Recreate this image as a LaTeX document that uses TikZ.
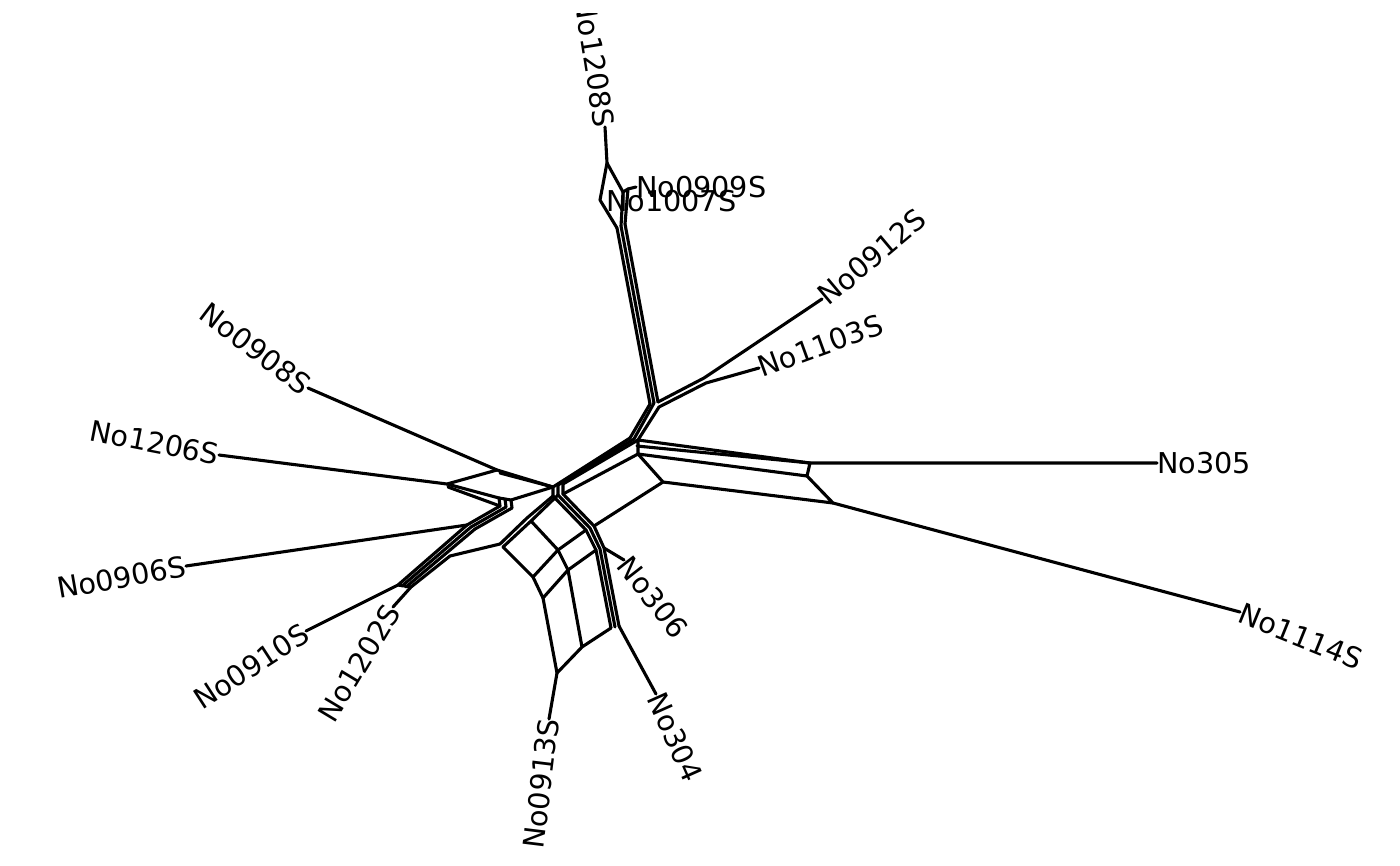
\documentclass[tikz,border=0pt]{standalone}
\usepackage{fontspec}
\newfontfamily\labfont{DejaVu Sans}
\tikzset{
  split/.style={line width=3.1pt, line join=round, line cap=round},
  lab/.style={font=\labfont\fontsize{28.7}{34}\selectfont, inner sep=0pt}
}
\begin{document}
\begin{tikzpicture}[x=1pt, y=-1pt]
\useasboundingbox (0,0) rectangle (1400,865);
% tips
\begin{scope}
\clip (0,13) rectangle (1400,865);
\node[lab, anchor=east, rotate=-81] (l1208) at (605,127) {No1208S};
\end{scope}
\node[lab, anchor=west] (l0909) at (636,187) {No0909S};
\node[lab, anchor=west] (l1007) at (606,201) {No1007S};
\node[lab, anchor=west, rotate=40] (l0912) at (822,299) {No0912S};
\node[lab, anchor=west, rotate=20] (l1103) at (759,368) {No1103S};
\node[lab, anchor=west] (l305) at (1157,463) {No305};
\node[lab, anchor=west, rotate=-22] (l1114) at (1240,612) {No1114S};
\node[lab, anchor=west, rotate=-52] (l306) at (624,560) {No306};
\node[lab, anchor=west, rotate=-66] (l304) at (656,694) {No304};
\node[lab, anchor=east, rotate=83] (l0913) at (549,719) {No0913S};
\node[lab, anchor=east, rotate=59] (l1202) at (393,607) {No1202S};
\node[lab, anchor=east, rotate=33] (l0910) at (306,631) {No0910S};
\node[lab, anchor=east, rotate=10] (l0906) at (186,566) {No0906S};
\node[lab, anchor=east, rotate=-11] (l1206) at (219,455) {No1206S};
\node[lab, anchor=east, rotate=-37] (l0908) at (308,388) {No0908S};
% top
\coordinate (a1) at (607,163);
\coordinate (a2) at (600,200);
\coordinate (a3) at (617,228);
\coordinate (a4) at (623,192);
\coordinate (a5) at (628,189);
\coordinate (a6) at (621,226);
\coordinate (a7) at (625,224);
\coordinate (w1) at (650,404);
\coordinate (w2) at (654,403);
\coordinate (w3) at (658,402);
\coordinate (w4) at (659,407);
\coordinate (x1) at (704,378);
\coordinate (x2) at (706,383);
% centre
\coordinate (y1) at (630,438);
\coordinate (y2) at (634,439);
\coordinate (y3) at (638,440);
\coordinate (y4) at (637,446);
\coordinate (y5) at (638,454);
\coordinate (r1) at (810,463);
\coordinate (r2) at (807,476);
\coordinate (s1) at (663,482);
\coordinate (s2) at (833,503);
\coordinate (c1) at (553,487);
\coordinate (c2) at (558,485);
\coordinate (c3) at (563,484);
\coordinate (d1) at (553,496);
\coordinate (d2) at (558,495);
\coordinate (d3) at (563,494);
% lower arc
\coordinate (f1) at (586,530);
\coordinate (f2) at (590,528);
\coordinate (f3) at (594,526);
\coordinate (g1) at (596,550);
\coordinate (g2) at (600,549);
\coordinate (g3) at (604,548);
\coordinate (h1) at (611,628);
\coordinate (h2) at (615,627);
\coordinate (h3) at (619,626);
\coordinate (k1) at (527,518);
\coordinate (k2) at (531,521);
\coordinate (m1) at (500,544);
\coordinate (m2) at (503,547);
\coordinate (n1) at (533,577);
\coordinate (n2) at (543,598);
\coordinate (u2) at (558,550);
\coordinate (u3) at (568,570);
\coordinate (p1) at (582,647);
\coordinate (p2) at (557,673);
% left
\coordinate (q1) at (398,585);
\coordinate (q2) at (402,586);
\coordinate (q3) at (406,587);
\coordinate (q4) at (411,587);
\coordinate (q5) at (450,556);
\coordinate (Q1) at (467,525);
\coordinate (Q2) at (471,527);
\coordinate (Q3) at (475,529);
\coordinate (b1t) at (499,498);
\coordinate (b1b) at (500,506);
\coordinate (b2t) at (505,499);
\coordinate (b2b) at (506,507);
\coordinate (b3t) at (511,500);
\coordinate (b3b) at (512,508);
\coordinate (dl) at (447,484);
\coordinate (dl2) at (448,487);
\coordinate (dt) at (497,470);
\coordinate (dt2) at (500,473);

\begin{scope}[split]
\draw (l1208.east) -- (a1) -- (a2) -- (a3);
\draw (a1) -- (a4) -- (a6);
\draw (a4) -- (a5) -- (a7);
\draw (a5) -- (l0909.west);
\draw (a3) -- (w1);
\draw (a6) -- (w2);
\draw (a7) -- (w3);
\draw (w3) -- (x1) -- (l0912.west);
\draw (w4) -- (x2) -- (l1103.west);
\draw (w1) -- (y1);
\draw (w2) -- (y2);
\draw (w4) -- (y3);
\draw (y3) -- (r1) -- (l305.west);
\draw (y4) -- (r1) -- (r2) -- (y5) -- (y3);
\draw (y5) -- (s1) -- (s2) -- (r2);
\draw (s2) -- (l1114.west);
\draw (y1) -- (c1) -- (d1);
\draw (y2) -- (c2) -- (d2);
\draw (y3) -- (c3) -- (d3);
\draw (y5) -- (d3);
\draw (d1) -- (f1) -- (g1) -- (h1);
\draw (d2) -- (f2) -- (g2) -- (h2);
\draw (d3) -- (f3) -- (g3) -- (h3);
\draw (g3) -- (l306.west);
\draw (h3) -- (l304.west);
\draw (s1) -- (f3);
\draw (f1) -- (u2);
\draw (d1) -- (k1) -- (m1);
\draw (d2) -- (k2) -- (m2);
\draw (k2) -- (u2) -- (u3) -- (g1);
\draw (m2) -- (n1) -- (u2);
\draw (n1) -- (n2) -- (u3) -- (p1) -- (h1);
\draw (n2) -- (p2) -- (p1);
\draw (p2) -- (l0913.east);
\draw (l0910.east) -- (q1) -- (Q1);
\draw (q2) -- (Q2);
\draw (q3) -- (Q3);
\draw (l1202.east) -- (q4) -- (q5) -- (m1);
\draw (q1) -- (q4);
\draw (l0906.east) -- (Q1);
\draw (b1t) -- (b1b) -- (Q1);
\draw (b2t) -- (b2b) -- (Q2);
\draw (b3t) -- (b3b) -- (Q3);
\draw (b1t) -- (b3t) -- (c1);
\draw (l1206.east) -- (dl) -- (dt) -- (c1);
\draw (dl) -- (b1t);
\draw (dl2) -- (b1b);
\draw (dt2) -- (c1);
\draw (l0908.east) -- (dt);
\end{scope}
\end{tikzpicture}
\end{document}
